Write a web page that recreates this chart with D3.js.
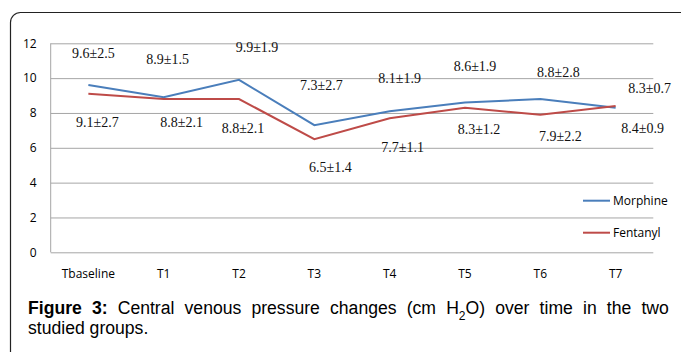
<!DOCTYPE html>
<html>
<head>
<meta charset="utf-8">
<script src="https://cdn.jsdelivr.net/npm/d3@7"></script>
<style>
  html, body { margin: 0; padding: 0; background: #fff; }
  svg { display: block; }
</style>
</head>
<body>
<svg id="chart" width="681" height="352"></svg>
<script>
const categories = ["Tbaseline", "T1", "T2", "T3", "T4", "T5", "T6", "T7"];
const morphine = [9.6, 8.9, 9.9, 7.3, 8.1, 8.6, 8.8, 8.3];
const morphineSD = [2.5, 1.5, 1.9, 2.7, 1.9, 1.9, 2.8, 0.7];
const fentanyl = [9.1, 8.8, 8.8, 6.5, 7.7, 8.3, 7.9, 8.4];
const fentanylSD = [2.7, 2.1, 2.1, 1.4, 1.1, 1.2, 2.2, 0.9];
const yTicks = [0, 2, 4, 6, 8, 10, 12];
const seriesNames = ["Morphine", "Fentanyl"];

// label placement offsets (px) relative to each point
const morphineLabelOffset = [[5,-32],[4,-38],[18,-33],[7,-40],[10,-33],[10,-36],[18,-27],[34,-20]];
const fentanylLabelOffset = [[9,28],[18,23],[4,29],[16,28],[13,29],[14,21],[20,21],[27,22]];

const svg = d3.select("#chart");
const colors = { Morphine: "#4a7ebb", Fentanyl: "#be4b48" };

// outer rounded frame
svg.append("rect")
  .attr("x", 10.5).attr("y", 12.5)
  .attr("width", 720).attr("height", 400)
  .attr("rx", 10).attr("ry", 10)
  .attr("fill", "none").attr("stroke", "#222").attr("stroke-width", 1.2);

const plot = { left: 50.7, right: 653.3, top: 43.3, bottom: 252.3 };

const x = d3.scaleBand().domain(categories).range([plot.left, plot.right]).padding(0);
const y = d3.scaleLinear().domain([0, 12]).range([plot.bottom, plot.top]);
const cx = c => x(c) + x.bandwidth() / 2;

// gridlines
const grid = svg.append("g").attr("transform", `translate(${plot.left},0)`)
  .call(d3.axisLeft(y).tickValues(yTicks).tickSize(-(plot.right - plot.left)).tickFormat(""));
grid.select(".domain").remove();
grid.selectAll(".tick line").attr("stroke", "#a6a6a6").attr("stroke-width", 1);

// left axis line
svg.append("line")
  .attr("x1", plot.left).attr("x2", plot.left)
  .attr("y1", y(12)).attr("y2", y(0))
  .attr("stroke", "#a6a6a6").attr("stroke-width", 1);

// y tick labels
const yAx = svg.append("g").attr("transform", `translate(${plot.left},0)`)
  .call(d3.axisLeft(y).tickValues(yTicks).tickSize(0).tickPadding(14));
yAx.select(".domain").remove();
yAx.selectAll("text").attr("font-family", "'Open Sans', sans-serif").attr("font-size", 12).attr("fill", "#000");

// x category labels
const xAx = svg.append("g").attr("transform", `translate(0,${plot.bottom})`)
  .call(d3.axisBottom(x).tickSize(0).tickPadding(17));
xAx.select(".domain").remove();
xAx.selectAll("text").attr("font-family", "'Open Sans', sans-serif").attr("font-size", 12).attr("fill", "#000");

const line = d3.line().x((d, i) => cx(categories[i])).y(d => y(d));

const series = [
  { name: "Morphine", values: morphine, sd: morphineSD, off: morphineLabelOffset },
  { name: "Fentanyl", values: fentanyl, sd: fentanylSD, off: fentanylLabelOffset }
];

series.forEach(s => {
  svg.append("path")
    .datum(s.values)
    .attr("d", line)
    .attr("fill", "none")
    .attr("stroke", colors[s.name])
    .attr("stroke-width", 2);
});

series.forEach(s => {
  svg.append("g").selectAll("text")
    .data(s.values)
    .join("text")
    .attr("x", (d, i) => cx(categories[i]) + s.off[i][0])
    .attr("y", (d, i) => y(d) + s.off[i][1])
    .attr("dy", "0.35em")
    .attr("text-anchor", "middle")
    .attr("font-family", "'Liberation Serif', 'Times New Roman', serif")
    .attr("font-size", 14)
    .attr("fill", "#111")
    .text((d, i) => `${d.toFixed(1)}±${s.sd[i].toFixed(1)}`);
});

// legend
const legendY = [200.7, 232.7];
seriesNames.forEach((n, i) => {
  svg.append("line")
    .attr("x1", 583).attr("x2", 610)
    .attr("y1", legendY[i]).attr("y2", legendY[i])
    .attr("stroke", colors[n]).attr("stroke-width", 2);
  svg.append("text")
    .attr("x", 613).attr("y", legendY[i]).attr("dy", "0.35em")
    .attr("font-family", "'Open Sans', sans-serif").attr("font-size", 12)
    .attr("fill", "#000")
    .text(n);
});

// caption
const capSize = 17.6;
const cap = svg.append("text")
  .attr("x", 28).attr("y", 314)
  .attr("font-family", "'Liberation Sans', Arial, sans-serif")
  .attr("font-size", capSize)
  .attr("fill", "#000")
  .attr("word-spacing", 0);
cap.append("tspan").attr("font-weight", "bold").text("Figure 3:");
cap.append("tspan").text(" Central venous pressure changes (cm H");
cap.append("tspan").attr("font-size", 12).attr("dy", 6).text("2");
cap.append("tspan").attr("dy", -6).text("O) over time in the two");
// justify the first line to the right edge
const targetW = 669 - 28;
const curW = cap.node().getBBox().width;
const spaces = 12;
cap.attr("word-spacing", Math.max(0, (targetW - curW) / spaces));
const newW = cap.node().getBBox().width;
if (Math.abs(newW - targetW) > 1 && newW !== curW) {
  const ws = Math.max(0, (targetW - curW) / spaces) * (targetW - curW) / (newW - curW);
  cap.attr("word-spacing", Math.max(0, ws));
}

svg.append("text")
  .attr("x", 28).attr("y", 334)
  .attr("font-family", "'Liberation Sans', Arial, sans-serif")
  .attr("font-size", capSize)
  .attr("fill", "#000")
  .text("studied groups.");
</script>
</body>
</html>
